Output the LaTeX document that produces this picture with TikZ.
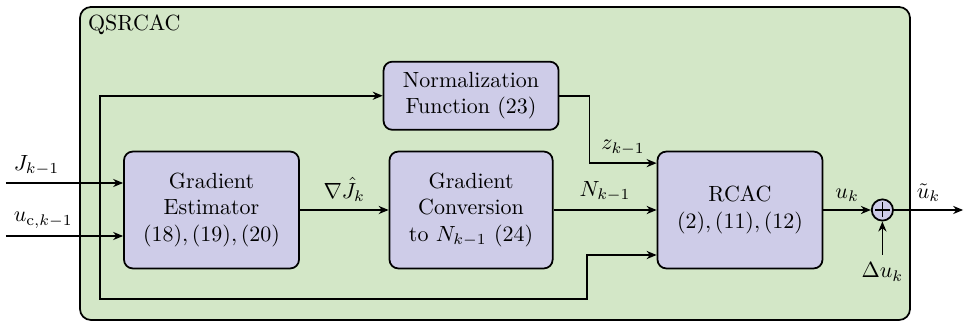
\documentclass[tikz,border=0pt]{standalone}
\usepackage{amsmath}
\usepackage{amssymb}
\usepackage{tikz}
\usetikzlibrary{arrows.meta,positioning,shapes.geometric,fit,backgrounds}

\definecolor{outergreen}{RGB}{211,231,199}
\definecolor{blocklav}{RGB}{206,204,232}

\begin{document}
\begin{tikzpicture}[
    >={Stealth[length=1.6mm,width=1.3mm]},
    container/.style={draw, thick, rounded corners=5pt, fill=outergreen, minimum width=13.28cm, minimum height=5.008cm},
    block/.style={draw, thick, rounded corners, fill=blocklav, align=center, minimum width=2.8cm, minimum height=1.87cm},
    sumnode/.style={draw, thick, circle, fill=blocklav, minimum size=0.34cm, inner sep=0pt,
        path picture={
            \draw[semithick] (path picture bounding box.center) ++(-0.12,0) -- ++(0.24,0);
            \draw[semithick] (path picture bounding box.center) ++(0,-0.12) -- ++(0,0.24);
        }},
    sig/.style={->, thick}
]
\useasboundingbox (0,0) rectangle (15.424,-5.152);

\node[container] (qsrcac) at (7.92,-2.616) {};
\node[below right, xshift=0.02cm, yshift=-0.02cm] (qsrcaclab) at (qsrcac.north west) {QSRCAC};

\node[block] (est) at (3.384,-3.36) {Gradient\\Estimator\\$(18),(19),(20)$};
\node[block, minimum width=2.61cm, right=1.42cm of est] (conv) {Gradient\\Conversion\\to $N_{k-1}$ $(24)$};
\node[block, minimum height=1.09cm, above=0.32cm of conv] (norm) {Normalization\\Function $(23)$};
\node[block, minimum width=2.64cm, right=1.65cm of conv] (rcac) {RCAC\\$(2),(11),(12)$};
\node[sumnode, right=0.76cm of rcac] (sum) {};

\coordinate (jin) at (0.096,-2.928);
\coordinate (uin) at (0.096,-3.776);
\coordinate (jb) at (1.6,-2.928);
\coordinate (ub) at (1.6,-3.776);
\coordinate (bt) at (9.392,-4.784);
\coordinate (uout) at (15.41,-3.36);
\coordinate[below=0.72cm of sum.center] (du);

% inputs
\draw[sig] (jin) -- (jin -| est.west);
\draw[sig] (uin) -- (uin -| est.west);
\node[above right] (jlab) at (jin) {$J_{k-1}$};
\node[above right] (ulab) at (uin) {$u_{\mathrm{c},k-1}$};

% branches
\draw[thick] (jb) -- (ub);
\draw[sig] (jb) |- (norm.west);
\draw[sig] (ub) |- (bt) |- ([yshift=-0.72cm]rcac.west);

% main path
\draw[sig] (est.east) -- node[above] {$\nabla\hat{J}_k$} (conv.west);
\draw[sig] (conv.east) -- node[above] {$N_{k-1}$} (rcac.west);
\draw[sig] (norm.east) -- ++(0.48,0) |- node[pos=0.75, above] {$z_{k-1}$} ([yshift=0.75cm]rcac.west);
\draw[sig] (rcac.east) -- node[above] {$u_k$} (sum.west);
\draw[sig] (sum.east) -- node[above] {$\tilde{u}_k$} (uout);
\draw[sig] (du) -- (sum.south);
\node[below] (dulab) at (du) {$\Delta u_k$};

\end{tikzpicture}
\end{document}
